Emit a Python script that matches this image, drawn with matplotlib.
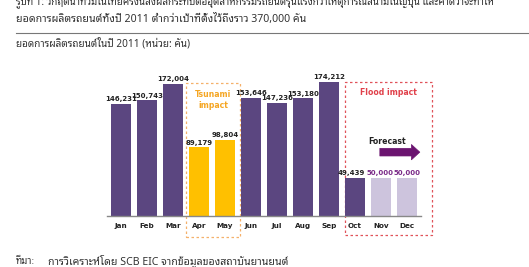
import numpy as np
import matplotlib
matplotlib.use('Agg')
import matplotlib.pyplot as plt
from matplotlib import font_manager
from matplotlib.patches import Rectangle

months = ['Jan', 'Feb', 'Mar', 'Apr', 'May', 'Jun', 'Jul', 'Aug', 'Sep', 'Oct', 'Nov', 'Dec']
production = [146231, 150743, 172004, 89179, 98804, 153646, 147236, 153180, 174212, 49439, 50000, 50000]
value_labels = ['146,231', '150,743', '172,004', '89,179', '98,804', '153,646', '147,236',
                '153,180', '174,212', '49,439', '50,000', '50,000']
kind = ['normal'] * 3 + ['tsunami'] * 2 + ['normal'] * 4 + ['flood'] + ['forecast'] * 2

title_1 = 'รูปที่ 1: วิกฤตน้ำท่วมในไทยครั้งนี้ส่งผลกระทบต่ออุตสาหกรรมรถยนต์รุนแรงกว่าเหตุการณ์สึนามิในญี่ปุ่น และคาดว่าจะทำให้'
title_2 = 'ยอดการผลิตรถยนต์ทั้งปี 2011 ต่ำกว่าเป้าที่ตั้งไว้ถึงราว 370,000 คัน'
subtitle = 'ยอดการผลิตรถยนต์ในปี 2011 (หน่วย: คัน)'
source_head = 'ที่มา:'
source_text = 'การวิเคราะห์โดย SCB EIC จากข้อมูลของสถาบันยานยนต์'

colors = {'normal': '#5b4680', 'tsunami': '#ffc000', 'flood': '#5b4680', 'forecast': '#cdc4dd'}
label_colors = {'normal': '#222222', 'tsunami': '#222222', 'flood': '#222222', 'forecast': '#7a2a88'}

# pick an installed family that has Thai glyphs
names = {f.name for f in font_manager.fontManager.ttflist}
thai_font = next((n for n in ['Noto Sans Thai Looped', 'Noto Sans Thai', 'Sarabun', 'Anuphan']
                  if n in names), 'DejaVu Sans')
plt.rcParams['font.family'] = [thai_font, 'DejaVu Sans']
num_font = ['DejaVu Sans']

W, H = 529, 267
fig = plt.figure(figsize=(W / 100, H / 100), dpi=100)

# axes in pixel terms: x 107..421, baseline at 216, top at 40
ax = fig.add_axes([107 / W, (H - 216) / H, 314 / W, 176 / H])
x = np.arange(len(months))
ax.bar(x, production, width=0.77, color=[colors[k] for k in kind], zorder=2)
ax.set_xlim(-0.54, 11.54)
ax.set_ylim(0, 228800)

for xi, v, lab, k in zip(x, production, value_labels, kind):
    ha, dx = 'center', 0
    if k == 'forecast':
        ha, dx = ('right', 0.5) if xi == 10 else ('left', -0.5)
    if k == 'flood':
        dx = -0.15
    ax.text(xi + dx, v + 2000, lab, ha=ha, va='bottom', fontsize=5.0,
            fontweight='bold', color=label_colors[k], family=num_font)

ax.set_xticks(x)
ax.set_xticklabels(months, fontsize=5.2, fontweight='bold', color='#222222', family=num_font)
ax.tick_params(axis='x', length=0, pad=5)
ax.set_yticks([])
for s in ['top', 'right', 'left']:
    ax.spines[s].set_visible(False)
ax.spines['bottom'].set_color('#888888')
ax.spines['bottom'].set_linewidth(1.0)

# impact boxes
ax.add_patch(Rectangle((2.5, -27300), 2.07, 172900 + 27300, fill=False, ls=(0, (2, 2)),
                       ec='#f5b06a', lw=0.9, clip_on=False, zorder=1))
ax.text(3.55, 151000, 'Tsunami\nimpact', ha='center', va='center', fontsize=5.6,
        fontweight='bold', color='#f5a623', linespacing=1.3, family=num_font)
ax.add_patch(Rectangle((8.6, -24700), 3.35, 174200 + 24700, fill=False, ls=(0, (2, 2)),
                       ec='#e0525a', lw=0.9, clip_on=False, zorder=1))
ax.text(10.3, 160000, 'Flood impact', ha='center', va='center', fontsize=5.6,
        fontweight='bold', color='#e0404a', family=num_font)
ax.text(10.25, 97500, 'Forecast', ha='center', va='center', fontsize=5.6,
        fontweight='bold', color='#222222', family=num_font)
ax.annotate('', xy=(11.6, 83000), xytext=(9.85, 83000), annotation_clip=False,
            arrowprops=dict(arrowstyle='simple,head_width=1.1,head_length=0.6,tail_width=0.55',
                            fc='#6b1470', ec='#6b1470', lw=0.5))

# header, rule, subtitle and source
fig.text(16 / W, 1 - 4 / H, title_1, fontsize=7.1, color='#333333', va='baseline')
fig.text(16 / W, 1 - 22 / H, title_2, fontsize=7.6, color='#333333', va='baseline')
fig.add_artist(plt.Line2D([16 / W, 1], [1 - 33 / H, 1 - 33 / H], color='#777777', lw=0.8))
fig.text(16 / W, 1 - 47 / H, subtitle, fontsize=7.2, color='#333333', va='baseline')
fig.text(16 / W, 1 - 264 / H, source_head, fontsize=7.0, color='#333333', va='baseline')
fig.text(48 / W, 1 - 264 / H, source_text, fontsize=7.6, color='#333333', va='baseline')

fig.savefig('out.png', dpi=100)
